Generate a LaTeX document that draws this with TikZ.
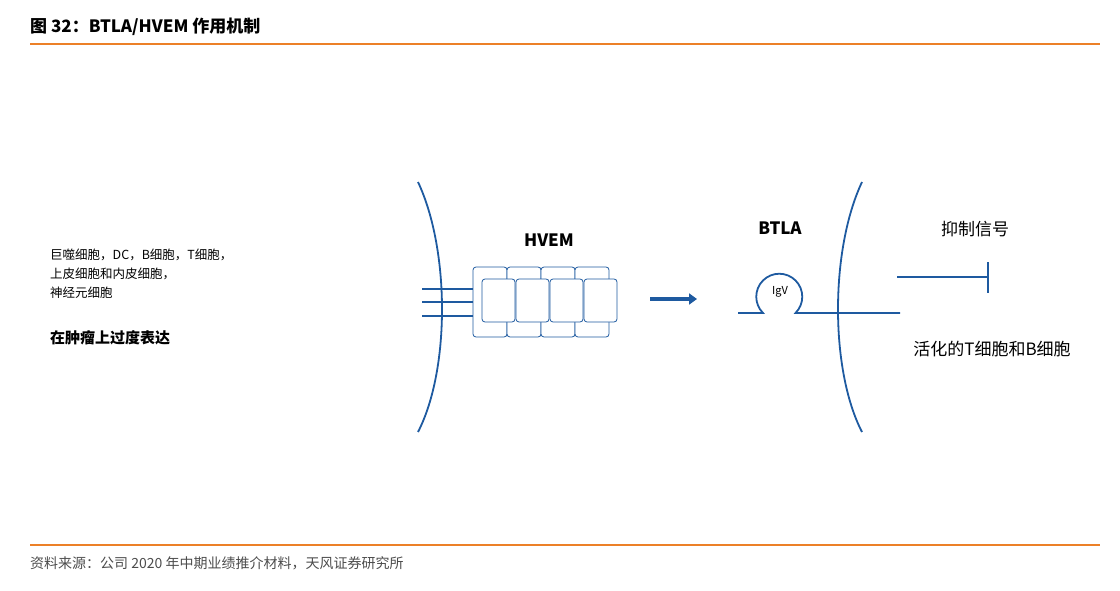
\documentclass[tikz,border=0pt]{standalone}
\usepackage{fontspec}
\usetikzlibrary{arrows.meta}
\setmainfont{Noto Sans CJK SC}
\definecolor{myorange}{RGB}{236,128,40}
\definecolor{bl}{RGB}{30,90,160}
\begin{document}
\begin{tikzpicture}[x=1pt,y=-1pt,
  bx/.style={line width=0.8pt,rounded corners=3pt,fill=white},
  lab/.style={font=\fontsize{12.5}{14}\selectfont,anchor=west,inner sep=0},
  bold/.style={font=\fontsize{17}{19}\selectfont\bfseries,inner sep=0}]
\useasboundingbox (0,0) rectangle (1120,591);
\node[anchor=west,inner sep=0,font=\fontsize{17}{19}\selectfont\bfseries] (title) at (30,27) {图 32：BTLA/HVEM 作用机制};
\draw[myorange,line width=1.2pt] (30,44) -- (1100,44);
\draw[myorange,line width=1.2pt] (30,545) -- (1100,545);
\node[anchor=west,inner sep=0,font=\fontsize{14}{16}\selectfont,text=black!70] (src) at (30,563) {资料来源：公司 2020 年中期业绩推介材料，天风证券研究所};
\node[lab] (l1) at (50,255) {巨噬细胞，DC，B细胞，T细胞，};
\node[lab] (l2) at (50,274) {上皮细胞和内皮细胞，};
\node[lab] (l3) at (50,293) {神经元细胞};
\node[lab,font=\fontsize{15}{17}\selectfont\bfseries] (l4) at (50,338) {在肿瘤上过度表达};
\draw[draw=bl,line width=1.8pt] (418,182) .. controls (450,250) and (450,370) .. (418,432);
\draw[draw=bl,line width=1.8pt] (862,182) .. controls (830,250) and (830,370) .. (862,432);
\foreach \y in {289,302,316} \draw[bl,line width=1.3pt] (422,\y) -- (482,\y);
\foreach \i in {0,1,2,3} \draw[bx,draw=bl] ({473+34*\i},267) rectangle ({507+34*\i},337);
\foreach \i in {0,1,2,3} \draw[bx,draw=bl] ({482+34*\i},279) rectangle ({515+34*\i},322);
\node[bold] (hvem) at (549,240) {HVEM};
\node[bold] (btla) at (780,228) {BTLA};
\draw[bl,line width=4pt,-{Triangle[length=8pt,width=11pt]}] (650,299) -- (697,299);
\draw[bl,line width=1.8pt] (738,313) -- (763,313) arc[start angle=135,end angle=405,radius=23] -- (900,313);
\node[inner sep=0,font=\fontsize{11}{13}\selectfont] (igv) at (780,292) {IgV};
\draw[bl,line width=2.2pt] (897,277) -- (988,277);
\draw[bl,line width=2.2pt] (988,262) -- (988,293);
\node[inner sep=0,font=\fontsize{17}{19}\selectfont] (inh) at (975,229) {抑制信号};
\node[inner sep=0,font=\fontsize{17}{19}\selectfont] (act) at (992,349) {活化的T细胞和B细胞};
\end{tikzpicture}
\end{document}
